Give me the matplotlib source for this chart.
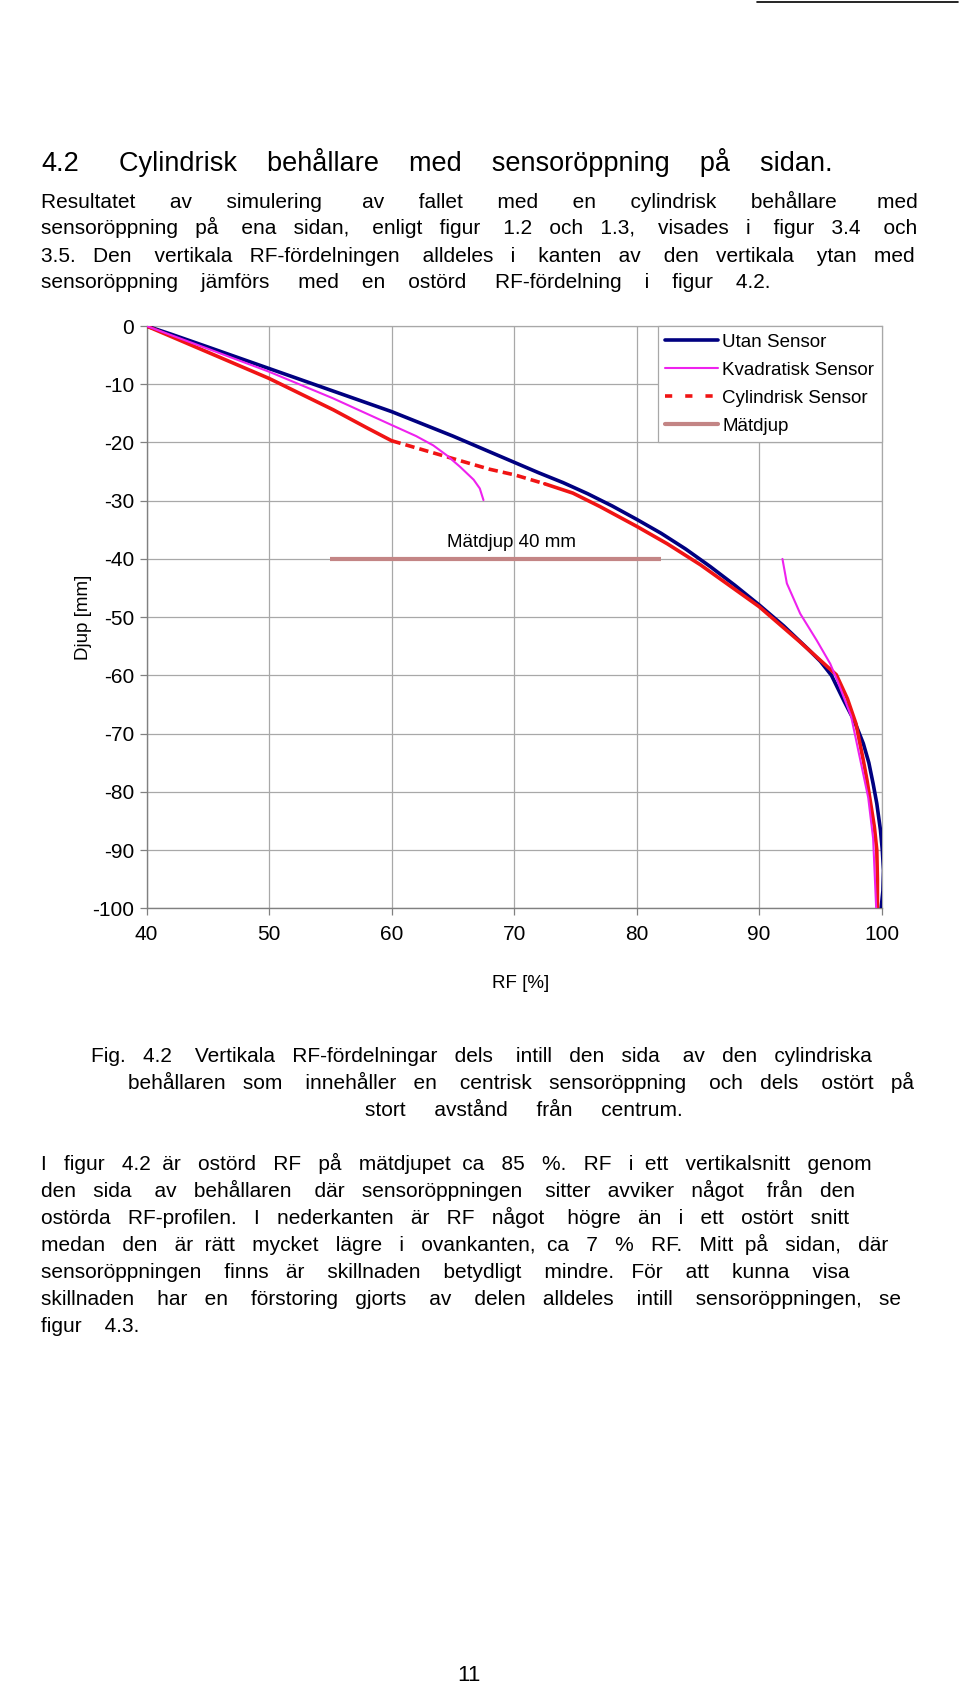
import numpy as np
import matplotlib
matplotlib.use('Agg')
import matplotlib.pyplot as plt
from matplotlib.lines import Line2D

# ── 1. Data ───────────────────────────────────────────────────────────────────
# RF [%] (x) against depth [mm] (y)
UTAN_X = [40, 42, 45, 50, 55, 60, 65, 68, 70, 72, 74, 76, 78, 80, 82, 84, 86,
          88, 90, 92, 94, 95, 95.9, 96.9, 97.8, 98.5, 98.95, 99.3, 99.6, 99.9,
          100.05, 100.15, 100.1, 99.95]
UTAN_Y = [0, -1.4, -3.6, -7.3, -11.0, -14.7, -18.9, -21.6, -23.4, -25.2, -26.9,
          -28.8, -30.9, -33.2, -35.6, -38.3, -41.3, -44.5, -47.9, -51.5, -55.5,
          -57.6, -60, -64.3, -68, -71.7, -75, -78.6, -82, -86.6, -90, -93.5,
          -97, -100]

KVAD_X = [40, 45, 50, 55.2, 60, 62, 63.4, 64.5, 65.6, 66.7, 67.2, 67.5, np.nan,
          91.9, 92.26, 93.35, 94.7, 95.8, 96.4, 97.5, 98.2, 98.9, 99.3, 99.55]
KVAD_Y = [0, -3.9, -7.85, -12.4, -17.0, -18.9, -20.5, -22.2, -24.2, -26.4,
          -27.9, -29.9, np.nan, -40, -44.2, -49.4, -54, -58, -61, -67, -74, -81,
          -88, -100]

CYL_X = [40, 42, 45, 50, 55.25, 58, 60, 68, 70.1, 72.5, 74.8, 77, 80, 82.5,
         85.2, 90, 93.3, 96.3, 97.2, 97.9, 98.5, 98.8, 99.1, 99.4, 99.6, 99.65,
         99.65]
CYL_Y = [0, -1.8, -4.5, -9.0, -14.4, -17.5, -19.7, -24.6, -25.6, -27.1, -28.7,
         -31.0, -34.4, -37.4, -41.0, -48.2, -54.2, -59.9, -64, -68.3, -74.6,
         -78, -82, -86, -90, -95, -100]
CYL_GAP = (6, 9)          # sparse stretch of the series, drawn dashed

MATDJUP_X = [55, 82]
MATDJUP_Y = [-40, -40]

X_TICKS = [40, 50, 60, 70, 80, 90, 100]
Y_TICKS = [0, -10, -20, -30, -40, -50, -60, -70, -80, -90, -100]

SERIES = ['Utan Sensor', 'Kvadratisk Sensor', 'Cylindrisk Sensor', 'Mätdjup']

C_NAVY = '#000080'
C_MAG = '#ee22ee'
C_RED = '#f01414'
C_MAT = '#c38585'
C_GRID = '#a8a8a8'
C_AXIS = '#808080'

# ── 2. Page text ──────────────────────────────────────────────────────────────
# (text, left px, right px or None, baseline px)
HEADING = [('4.2', 41, None, 171),
           ('Cylindrisk behållare med sensoröppning på sidan.', 119, 834, 171)]

PARA1 = [('Resultatet av simulering av fallet med en cylindrisk behållare med', 41, 915, 207.5),
         ('sensoröppning på ena sidan, enligt figur 1.2 och 1.3, visades i figur 3.4 och', 41, 915, 234.5),
         ('3.5. Den vertikala RF-fördelningen alldeles i kanten av den vertikala ytan med', 41, 915, 261.5),
         ('sensoröppning jämförs med en ostörd RF-fördelning i figur 4.2.', 41, 773, 288.5)]

CAPTION = [('Fig. 4.2 Vertikala RF-fördelningar dels intill den sida av den cylindriska', 91, 874, 1062),
           ('behållaren som innehåller en centrisk sensoröppning och dels ostört på', 128, 914, 1089),
           ('stort avstånd från centrum.', 365, 680, 1116)]

PARA2 = [('I figur 4.2 är ostörd RF på mätdjupet ca 85 %. RF i ett vertikalsnitt genom', 41, 872, 1170),
         ('den sida av behållaren där sensoröppningen sitter avviker något från den', 41, 857, 1197),
         ('ostörda RF-profilen. I nederkanten är RF något högre än i ett ostört snitt', 41, 849, 1224),
         ('medan den är rätt mycket lägre i ovankanten, ca 7 % RF. Mitt på sidan, där', 41, 888, 1251),
         ('sensoröppningen finns är skillnaden betydligt mindre. För att kunna visa', 41, 847, 1278),
         ('skillnaden har en förstoring gjorts av delen alldeles intill sensoröppningen, se', 41, 902, 1305),
         ('figur 4.3.', 41, 141, 1332)]

PAGE_NO = '11'

# ── 3. Style ──────────────────────────────────────────────────────────────────
plt.rcParams.update({
    'font.family': ['Liberation Sans', 'DejaVu Sans'],
    'font.size': 13,
    'axes.unicode_minus': False,
    'lines.solid_joinstyle': 'round',
    'lines.solid_capstyle': 'round',
})

W, H = 960, 1692
fig = plt.figure(figsize=(W / 100, H / 100), dpi=100)
renderer = fig.canvas.get_renderer()


def text_width(s, size):
    t = fig.text(0, 0, s, fontsize=size)
    w = t.get_window_extent(renderer).width
    t.remove()
    return w


def put_line(text, x0, x1, base, size=15):
    """One text per line; word gaps padded with spaces so it spans x0..x1 (px)."""
    words = text.split()
    line = text
    if x1 is not None and len(words) > 1:
        sp = (text_width('x' + ' ' * 20 + 'x', size) - text_width('xx', size)) / 20
        extra = (x1 - x0 - text_width(text, size)) / (len(words) - 1)
        line, done = words[0], 0
        for i, w in enumerate(words[1:], start=1):
            k = max(0, int(round((i * extra - done) / sp)))
            done += k * sp
            line += ' ' * (1 + k) + w
    fig.text(x0 / W, 1 - base / H, line, fontsize=size, ha='left', va='baseline')


for t, x0, x1, b in HEADING:
    put_line(t, x0, x1, b, size=19.5)
for block in (PARA1, CAPTION, PARA2):
    for t, x0, x1, b in block:
        put_line(t, x0, x1, b, size=15)

fig.text(469 / W, 1 - 1681 / H, PAGE_NO, fontsize=16, ha='center', va='baseline')
fig.add_artist(Line2D([757 / W, 958 / W], [1 - 2 / H, 1 - 2 / H],
                      transform=fig.transFigure, color='black', lw=1.2))

# ── 4. Chart ──────────────────────────────────────────────────────────────────
L, R, T, B = 146.5, 881.7, 326, 908.3
ax = fig.add_axes([L / W, 1 - B / H, (R - L) / W, (B - T) / H])

ax.plot(MATDJUP_X, MATDJUP_Y, color=C_MAT, lw=3.0, solid_capstyle='butt', zorder=2)
ax.plot(UTAN_X, UTAN_Y, color=C_NAVY, lw=2.6, zorder=3)
g0, g1 = CYL_GAP
ax.plot(CYL_X[:g0 + 1], CYL_Y[:g0 + 1], color=C_RED, lw=2.6, zorder=4)
ax.plot(CYL_X[g0:g1 + 1], CYL_Y[g0:g1 + 1], color=C_RED, lw=2.6,
        dashes=(2.6, 1.4), dash_capstyle='butt', zorder=4)
ax.plot(CYL_X[g1:], CYL_Y[g1:], color=C_RED, lw=2.6, zorder=4)
ax.plot(KVAD_X, KVAD_Y, color=C_MAG, lw=1.5, zorder=5)

ax.text(69.8, -37.2, 'Mätdjup 40 mm', ha='center', va='center', fontsize=13.5)

ax.set_xlim(40, 100)
ax.set_ylim(-100, 0)
ax.set_xticks(X_TICKS)
ax.set_yticks(Y_TICKS)
ax.grid(True, color=C_GRID, lw=0.9)
ax.set_axisbelow(True)
for s in ('top', 'right'):
    ax.spines[s].set_color(C_GRID)
    ax.spines[s].set_linewidth(0.9)
for s in ('left', 'bottom'):
    ax.spines[s].set_color(C_AXIS)
    ax.spines[s].set_linewidth(1.0)
ax.tick_params(axis='both', length=5, width=0.9, color=C_AXIS, labelsize=15)
ax.tick_params(axis='x', pad=7)
ax.tick_params(axis='y', pad=4)

ax.set_xlabel('RF [%]', fontsize=13.5)
ax.xaxis.set_label_coords((521 - L) / (R - L), -(975 - B) / (B - T))
ax.set_ylabel('Djup [mm]', fontsize=13.5)
ax.yaxis.set_label_coords(-(L - 92) / (R - L), 0.5)

handles = [
    Line2D([], [], color=C_NAVY, lw=2.6),
    Line2D([], [], color=C_MAG, lw=1.5),
    Line2D([], [], color=C_RED, lw=2.6, dashes=(2.0, 3.6), dash_capstyle='butt'),
    Line2D([], [], color=C_MAT, lw=3.0),
]
leg = ax.legend(handles, SERIES, loc='upper right', bbox_to_anchor=(1, 1),
                borderaxespad=0, frameon=True, fancybox=False, fontsize=13.5,
                handlelength=2.8, handletextpad=0.25, labelspacing=0.58,
                borderpad=0.4)
leg.get_frame().set_edgecolor(C_GRID)
leg.get_frame().set_linewidth(0.9)
leg.get_frame().set_alpha(1)

# ── 5. Save ───────────────────────────────────────────────────────────────────
fig.savefig('out.png', dpi=100)
